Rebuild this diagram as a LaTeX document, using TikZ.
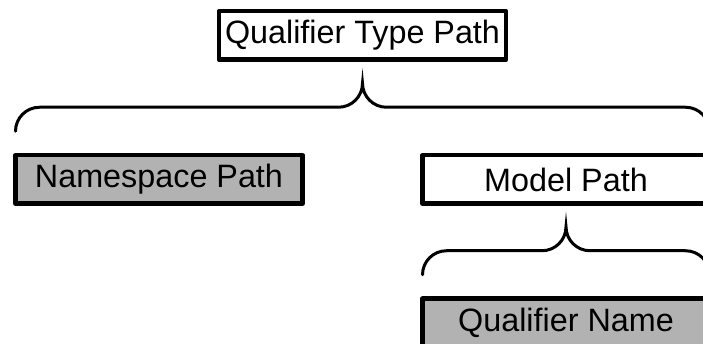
\documentclass[tikz,border=0pt]{standalone}
\usepackage{fontspec}
\setmainfont{Liberation Sans}
\usetikzlibrary{calc}

% curly brace opening upwards between two named points
\newcommand{\qbrace}[2]{%
  \draw[bracket] let \p1=(#1), \p2=(#2) in
    (\p1) arc[start angle=180, end angle=90, radius=0.48cm]
    -- ({(\x1+\x2)/2-0.48cm}, {\y1+0.48cm})
    arc[start angle=270, end angle=360, radius=0.48cm]
    arc[start angle=180, end angle=270, radius=0.48cm]
    -- ({\x2-0.48cm}, {\y1+0.48cm})
    arc[start angle=90, end angle=0, radius=0.48cm];}

\begin{document}
\begin{tikzpicture}[
pathbox/.style={draw, line width=0.09cm, line join=round, minimum width=5.74cm, minimum height=0.97cm, inner sep=0pt, outer sep=0pt, font=\fontsize{18.4}{21}\selectfont},
namebox/.style={pathbox, fill=black!30},
bracket/.style={line width=0.06cm, line cap=round}]
\useasboundingbox (0,0) rectangle (14.06,6.88);

% parts of the qualifier type path
\node[pathbox] (qtp) at (7.25,6.17) {Qualifier Type Path};
\node[namebox] (ns) at (3.18,3.29) {Namespace Path};
\node[pathbox] (mp) at (11.32,3.29) {Model Path};
\node[namebox] (qn) at (11.32,0.42) {Qualifier Name};

% braces
\coordinate (b1l) at ([yshift=0.48cm]ns.north west);
\coordinate (b1r) at ([yshift=0.48cm]mp.north east);
\coordinate (b2l) at ([yshift=0.48cm]qn.north west);
\coordinate (b2r) at ([yshift=0.48cm]qn.north east);
\qbrace{b1l}{b1r}
\qbrace{b2l}{b2r}
\end{tikzpicture}
\end{document}
